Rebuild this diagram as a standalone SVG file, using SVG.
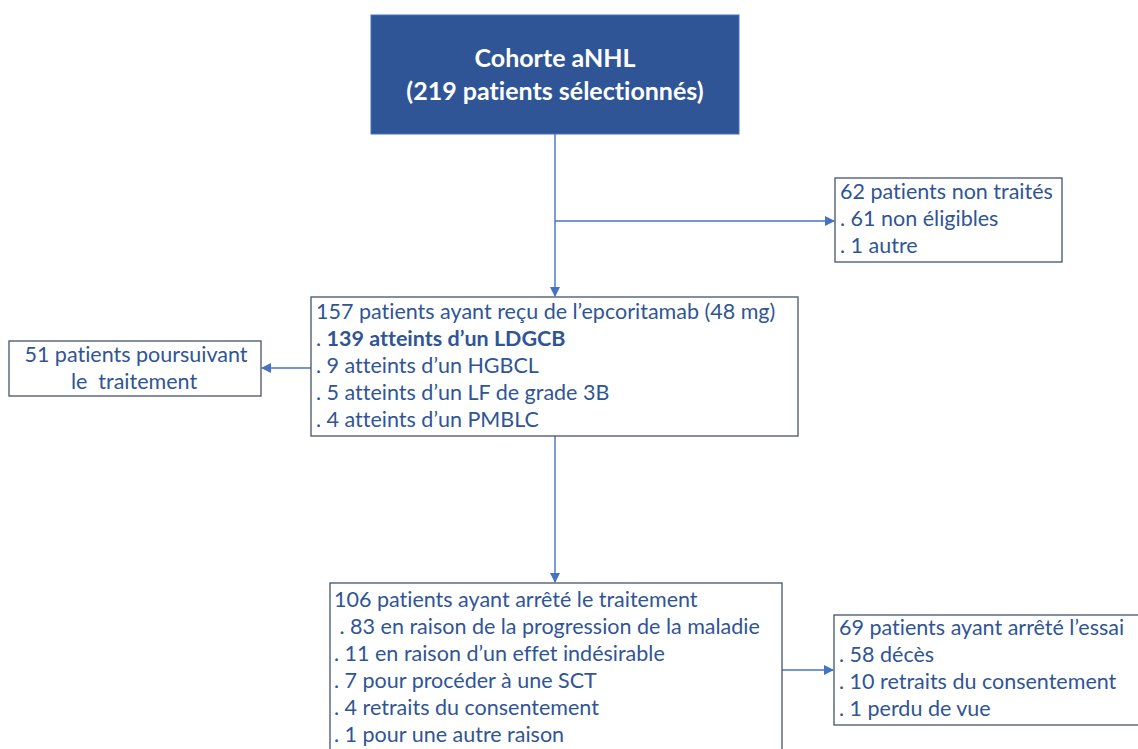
<svg xmlns="http://www.w3.org/2000/svg" width="1138" height="749" viewBox="0 0 1138 749">
<style>
.box{fill:#ffffff;stroke:#44546A;stroke-width:1.3}
.t{font-family:Lato,"Liberation Sans",sans-serif;font-size:21.5px;fill:#2F5597;font-variant-ligatures:none}
.b{font-weight:bold}
.title{font-family:Lato,"Liberation Sans",sans-serif;font-size:25px;font-weight:bold;fill:#ffffff;text-anchor:middle;font-variant-ligatures:none}
.c{fill:none;stroke:#4472C4;stroke-width:1.4}
</style>
<defs>
<marker id="ah" markerWidth="10" markerHeight="10" refX="9" refY="5" orient="auto" markerUnits="userSpaceOnUse">
<path d="M0,0 L10,5 L0,10 Z" fill="#4472C4"/>
</marker>
</defs>
<rect width="1138" height="749" fill="#ffffff"/>
<g id="connectors">
<line class="c" x1="555" y1="134" x2="555" y2="296" marker-end="url(#ah)"/>
<line class="c" x1="555" y1="221" x2="834" y2="221" marker-end="url(#ah)"/>
<line class="c" x1="311" y1="368" x2="262" y2="368" marker-end="url(#ah)"/>
<line class="c" x1="555" y1="436" x2="555" y2="582" marker-end="url(#ah)"/>
<line class="c" x1="782" y1="670" x2="833" y2="670" marker-end="url(#ah)"/>
</g>
<g id="cohorte">
<rect x="371" y="15" width="368" height="119" fill="#2F5597" stroke="#4472C4" stroke-width="1"/>
<text class="title" x="555" y="67">Cohorte aNHL</text>
<text class="title" x="555" y="100">(219 patients sélectionnés)</text>
</g>
<g id="non-traites">
<rect class="box" x="835" y="178" width="227" height="84"/>
<text class="t" x="840" y="199">62 patients non traités</text>
<text class="t" x="840" y="226">. 61 non éligibles</text>
<text class="t" x="840" y="253">. 1 autre</text>
</g>
<g id="recu">
<rect class="box" x="311" y="297" width="487" height="139"/>
<text class="t" x="316" y="319">157 patients ayant reçu de l’epcoritamab (48 mg)</text>
<text class="t" x="316" y="346">. <tspan class="b">139 atteints d’un LDGCB</tspan></text>
<text class="t" x="316" y="373">. 9 atteints d’un HGBCL</text>
<text class="t" x="316" y="400">. 5 atteints d’un LF de grade 3B</text>
<text class="t" x="316" y="427">. 4 atteints d’un PMBLC</text>
</g>
<g id="poursuivant">
<rect class="box" x="9" y="341" width="252" height="55"/>
<text class="t" x="136" y="362" text-anchor="middle">51 patients poursuivant</text>
<text class="t" x="134" y="389" text-anchor="middle" xml:space="preserve">le  traitement</text>
</g>
<g id="arrete-traitement">
<rect class="box" x="330" y="583" width="452" height="180"/>
<text class="t" x="334" y="607">106 patients ayant arrêté le traitement</text>
<text class="t" x="334" y="634" xml:space="preserve"> . 83 en raison de la progression de la maladie</text>
<text class="t" x="334" y="661">. 11 en raison d’un effet indésirable</text>
<text class="t" x="334" y="688">. 7 pour procéder à une SCT</text>
<text class="t" x="334" y="715">. 4 retraits du consentement</text>
<text class="t" x="334" y="742">. 1 pour une autre raison</text>
</g>
<g id="arrete-essai">
<rect class="box" x="834" y="615" width="310" height="110"/>
<text class="t" x="839" y="635">69 patients ayant arrêté l’essai</text>
<text class="t" x="839" y="662">. 58 décès</text>
<text class="t" x="839" y="689">. 10 retraits du consentement</text>
<text class="t" x="839" y="716">. 1 perdu de vue</text>
</g>
</svg>
